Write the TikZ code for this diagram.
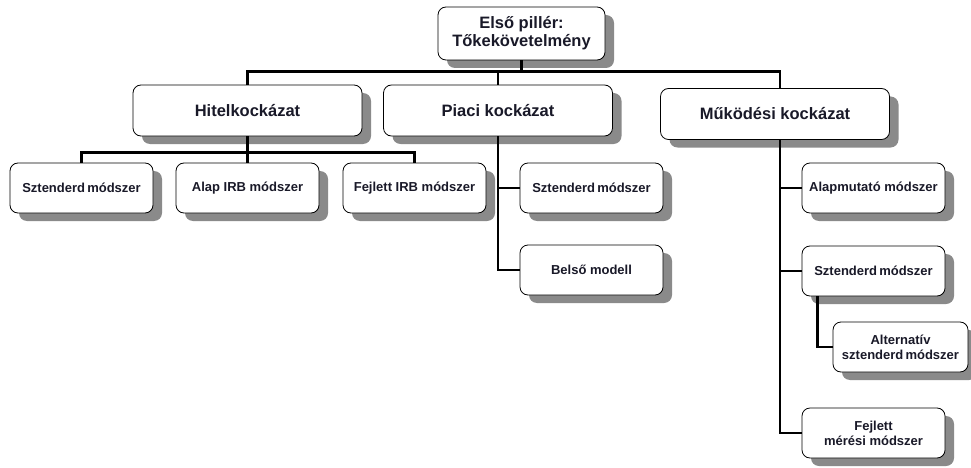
\documentclass[tikz,border=0pt]{standalone}
\usepackage{fontspec}
\setmainfont{Liberation Sans}
\usetikzlibrary{shadows}
\definecolor{shadowGray}{RGB}{138,138,138}
\definecolor{textInk}{RGB}{25,25,40}
\newcommand{\bigFont}{\fontsize{16.5}{18}\selectfont\bfseries}
\newcommand{\smallFont}{\fontsize{13}{15}\selectfont\bfseries}
\newcommand{\riskBox}[5]{%%
  %% A box: name, style, x, y, text.
  \node[#2] (#1) at (#3,#4) {#5};
}

\begin{document}
\begin{tikzpicture}[%%
  x=1pt,y=-1pt,
  boxStyle/.style={draw,line width=0.8pt,rounded corners=8pt,fill=white,
    text=textInk,align=center,inner sep=2pt,
    drop shadow={shadow xshift=9pt,shadow yshift=-8pt,fill=shadowGray,opacity=1}},%%
  bigBox/.style={boxStyle,font=\bigFont,minimum width=229pt,minimum height=51pt},%%
  smallBox/.style={boxStyle,font=\smallFont,minimum width=143pt,minimum height=50pt},%%
  linkStyle/.style={-,line width=2.8pt}%%
]
\useasboundingbox (0,0) rectangle (971,468);
%%
%% The pillar and the three kinds of risk.
\riskBox{pillar}{boxStyle,font=\bigFont,minimum width=167pt,minimum height=53pt}{521.5}{33.5}{Első pillér:\\Tőkekövetelmény}
\riskBox{credit}{bigBox}{247.5}{110.5}{Hitelkockázat}
\riskBox{market}{bigBox}{498}{110.5}{Piaci kockázat}
\riskBox{operational}{bigBox}{775}{114}{Működési kockázat}
%%
%% Credit risk methods.
\riskBox{creditStd}{smallBox}{81.5}{188}{Sztenderd\,módszer}
\riskBox{creditIrb}{smallBox}{247.5}{188}{Alap IRB módszer}
\riskBox{creditAdv}{smallBox}{414.5}{188}{Fejlett IRB módszer}
%%
%% Market risk methods.
\riskBox{marketStd}{smallBox}{591.5}{188}{Sztenderd\,módszer}
\riskBox{marketInt}{smallBox}{591.5}{270}{Belső modell}
%%
%% Operational risk methods.
\riskBox{opBasic}{smallBox}{873.5}{188}{Alapmutató módszer}
\riskBox{opStd}{smallBox}{873.5}{271}{Sztenderd\,módszer}
\riskBox{opAlt}{smallBox,minimum width=135pt}{900.5}{347}{Alternatív\\sztenderd\,módszer}
\riskBox{opAdv}{smallBox}{873.5}{433}{Fejlett\\mérési módszer}
%%
%% The top bus.
\coordinate (opTop) at ([xshift=5pt]operational.north);
\coordinate (opBottom) at ([xshift=5pt]operational.south);
\draw[linkStyle] (pillar.south) -- ++(0,12);
\draw[linkStyle] (credit.north) -- ++(0,-13) -| (opTop);
\draw[linkStyle] (market.north) -- ++(0,-13);
%%
%% Credit branch.
\draw[linkStyle] (credit.south) -- ++(0,16) coordinate (creditBus);
\draw[linkStyle] (creditStd.north) |- (creditBus) -| (creditAdv.north);
\draw[linkStyle] (creditBus) -- (creditIrb.north);
%%
%% Market branch.
\draw[linkStyle] (market.south) |- (marketInt.west);
\draw[linkStyle] (marketStd.west) -- ++(-22,0);
%%
%% Operational branch.
\draw[linkStyle] (opBottom) |- (opAdv.west);
\draw[linkStyle] (opBasic.west) -- ++(-22,0);
\draw[linkStyle] (opStd.west) -- ++(-22,0);
\draw[linkStyle] ([xshift=-56pt]opStd.south) |- (opAlt.west);
\end{tikzpicture}
\end{document}
